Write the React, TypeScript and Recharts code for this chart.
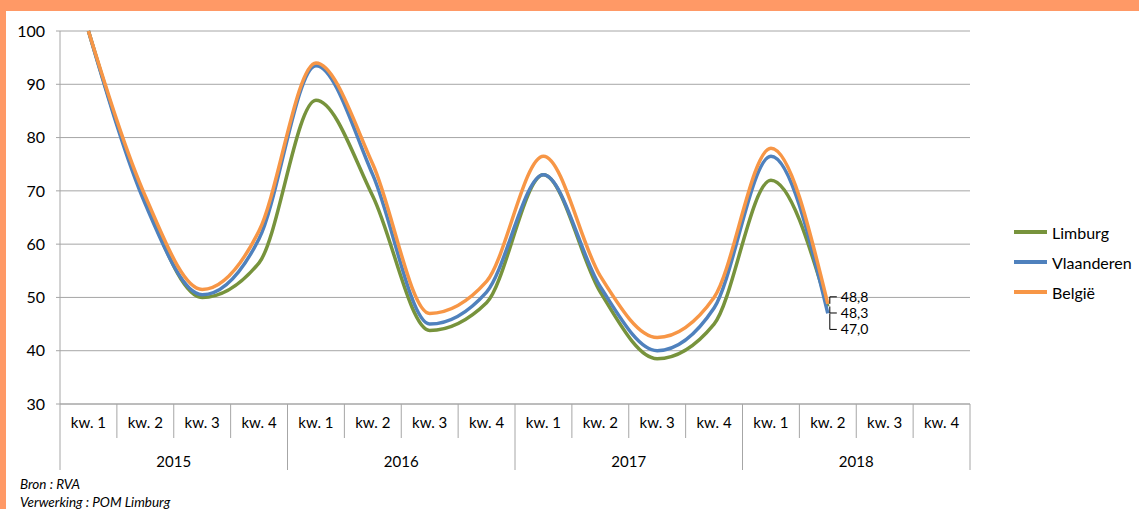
import React from "react";
import { LineChart, Line, XAxis, YAxis, CartesianGrid } from "recharts";

const quarters = [
  "kw. 1", "kw. 2", "kw. 3", "kw. 4",
  "kw. 1", "kw. 2", "kw. 3", "kw. 4",
  "kw. 1", "kw. 2", "kw. 3", "kw. 4",
  "kw. 1", "kw. 2", "kw. 3", "kw. 4",
];
const years = ["2015", "2016", "2017", "2018"];

const limburg = [100, 68, 50, 56.5, 87, 69, 43.8, 49, 73, 51, 38.5, 45, 72, 48.3, null, null];
const vlaanderen = [100, 67.5, 50.5, 61, 93.5, 73, 45, 51, 73, 52, 40, 48, 76.5, 47.0, null, null];
const belgie = [100, 69, 51.5, 62.5, 94, 75, 47, 53, 76.5, 54, 42.5, 50, 78, 48.8, null, null];

const yTicks = [30, 40, 50, 60, 70, 80, 90, 100];

const FONT = "Lato, 'Liberation Sans', sans-serif";
const GRID = "#a6a6a6";
const PLOT_W = 910;
const BAND = PLOT_W / quarters.length;

const series = [
  { key: "Limburg", values: limburg, color: "#77933c", labelDy: 6.5 },
  { key: "Vlaanderen", values: vlaanderen, color: "#4f81bd", labelDy: 16 },
  { key: "België", values: belgie, color: "#f79646", labelDy: -7 },
];

const data = quarters.map((q, i) => ({
  q,
  Limburg: limburg[i],
  Vlaanderen: vlaanderen[i],
  België: belgie[i],
}));

const LAST = 13;

function QuarterTick(props: any) {
  const { x, y, index, payload } = props;
  const left = x - BAND / 2;
  return (
    <g>
      <line x1={left} y1={y} x2={left} y2={y + 34} stroke={GRID} />
      {index === quarters.length - 1 && (
        <line x1={x + BAND / 2} y1={y} x2={x + BAND / 2} y2={y + 34} stroke={GRID} />
      )}
      <text x={x} y={y + 24} textAnchor="middle" fontSize={15} fontFamily={FONT} fill="#000">
        {payload.value}
      </text>
    </g>
  );
}

function YearTick(props: any) {
  const { x, y, index } = props;
  const left = x - BAND / 2;
  return (
    <g>
      {index % 4 === 0 && <line x1={left} y1={y} x2={left} y2={y + 32} stroke={GRID} />}
      {index === quarters.length - 1 && (
        <line x1={x + BAND / 2} y1={y} x2={x + BAND / 2} y2={y + 32} stroke={GRID} />
      )}
      {index % 4 === 1 && (
        <text x={x + BAND / 2} y={y + 29} textAnchor="middle" fontSize={15} fontFamily={FONT} fill="#000">
          {years[Math.floor(index / 4)]}
        </text>
      )}
    </g>
  );
}

function endLabel(dy: number) {
  return (props: any) => {
    const { x, y, index, value } = props;
    if (index !== LAST || value == null) return null;
    const ty = y + dy;
    return (
      <g>
        <path d={`M${x + 2},${y} L${x + 2},${ty} L${x + 9},${ty}`} stroke="#000" fill="none" strokeWidth={1} />
        <text x={x + 13} y={ty} dy="0.35em" fontSize={14} fontFamily={FONT} fill="#000">
          {Number(value).toFixed(1).replace(".", ",")}
        </text>
      </g>
    );
  };
}

export default function App() {
  return (
    <div style={{ position: "absolute", left: 0, top: 0, width: 1139, height: 509, background: "#ff9966", overflow: "hidden" }}>
      <div style={{ position: "absolute", left: 6, top: 11, right: 0, bottom: 0, background: "#fff" }} />
      <div style={{ position: "absolute", left: 0, top: 0 }}>
        <LineChart width={1139} height={509} data={data} margin={{ top: 31, right: 169, bottom: 39, left: 0 }}>
          <CartesianGrid horizontal vertical={false} stroke={GRID} />
          <XAxis
            dataKey="q"
            xAxisId={0}
            interval={0}
            height={34}
            padding={{ left: BAND / 2, right: BAND / 2 }}
            tickSize={0}
            tickMargin={0}
            tickLine={false}
            axisLine={{ stroke: GRID }}
            tick={<QuarterTick />}
          />
          <XAxis
            dataKey="q"
            xAxisId="year"
            interval={0}
            height={32}
            padding={{ left: BAND / 2, right: BAND / 2 }}
            tickSize={0}
            tickMargin={0}
            tickLine={false}
            axisLine={false}
            tick={<YearTick />}
          />
          <YAxis
            domain={[30, 100]}
            ticks={yTicks}
            width={60}
            tickSize={4}
            tickMargin={11}
            tickLine={{ stroke: GRID }}
            axisLine={{ stroke: GRID }}
            tick={{ fontSize: 16, fontFamily: FONT, fill: "#000" }}
          />
          {series.map((s) => (
            <Line
              key={s.key}
              xAxisId={0}
              type="monotone"
              dataKey={s.key}
              stroke={s.color}
              strokeWidth={3.5}
              dot={false}
              isAnimationActive={false}
              label={endLabel(s.labelDy)}
            />
          ))}
        </LineChart>
      </div>
      <div style={{ position: "absolute", left: 1014, top: 217, fontFamily: FONT, fontSize: 16, color: "#000" }}>
        {series.map((s) => (
          <div key={s.key} style={{ display: "flex", alignItems: "center", height: 30 }}>
            <span style={{ display: "inline-block", width: 33, height: 4, background: s.color, marginRight: 5 }} />
            <span>{s.key}</span>
          </div>
        ))}
      </div>
      <div style={{ position: "absolute", left: 20, top: 475, fontFamily: FONT, fontSize: 13.5, fontStyle: "italic", lineHeight: "18px", color: "#000" }}>
        <div>Bron : RVA</div>
        <div>Verwerking : POM Limburg</div>
      </div>
    </div>
  );
}
